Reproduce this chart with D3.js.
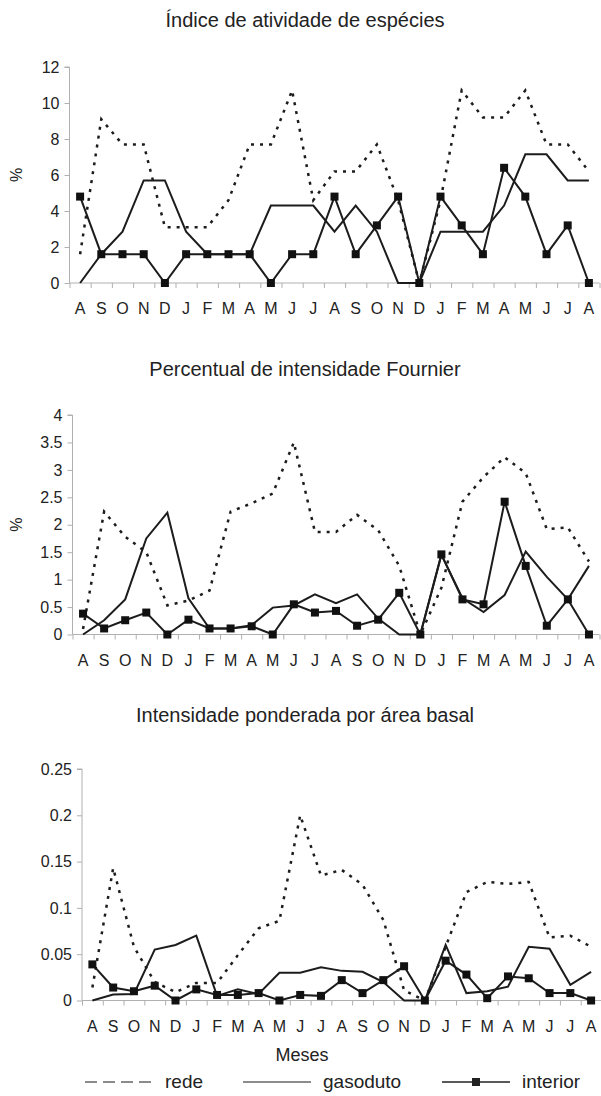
<!DOCTYPE html>
<html>
<head>
<meta charset="utf-8">
<script src="https://cdn.jsdelivr.net/npm/d3@7"></script>
<style>
  body { margin: 0; background: #fff; }
  text { font-family: "Liberation Sans", Arial, sans-serif; fill: #222; }
</style>
</head>
<body>
<svg id="chart" width="601" height="1096"></svg>
<script>
// month labels, Aug .. Aug (two years)
const months = ["A","S","O","N","D","J","F","M","A","M","J","J","A","S","O","N","D","J","F","M","A","M","J","J","A"];

// Índice de atividade de espécies (%)
const redeAtividade     = [1.6, 9.1, 7.7, 7.7, 3.1, 3.1, 3.1, 4.6, 7.7, 7.7, 10.7, 4.6, 6.2, 6.2, 7.7, 4.6, 0, 4.6, 10.7, 9.2, 9.2, 10.7, 7.7, 7.7, 6.2];
const gasodutoAtividade = [0, 1.6, 2.85, 5.7, 5.7, 2.85, 1.6, 1.6, 1.6, 4.3, 4.3, 4.3, 2.85, 4.3, 2.85, 0, 0, 2.85, 2.85, 2.85, 4.3, 7.15, 7.15, 5.7, 5.7];
const interiorAtividade = [4.8, 1.6, 1.6, 1.6, 0, 1.6, 1.6, 1.6, 1.6, 0, 1.6, 1.6, 4.8, 1.6, 3.2, 4.8, 0, 4.8, 3.2, 1.6, 6.4, 4.8, 1.6, 3.2, 0];

// Percentual de intensidade Fournier (%)
const redeFournier     = [0.1, 2.24, 1.78, 1.5, 0.53, 0.62, 0.8, 2.24, 2.39, 2.57, 3.5, 1.87, 1.87, 2.18, 1.9, 1.25, 0, 0.85, 2.42, 2.87, 3.23, 2.94, 1.92, 1.95, 1.33];
const gasodutoFournier = [0, 0.26, 0.64, 1.75, 2.22, 0.66, 0.11, 0.11, 0.17, 0.49, 0.53, 0.73, 0.57, 0.73, 0.29, 0, 0, 1.45, 0.66, 0.41, 0.72, 1.51, 1.05, 0.64, 1.25];
const interiorFournier = [0.38, 0.11, 0.26, 0.4, 0, 0.27, 0.11, 0.11, 0.15, 0, 0.55, 0.4, 0.43, 0.16, 0.27, 0.76, 0, 1.46, 0.64, 0.55, 2.42, 1.25, 0.16, 0.64, 0];

// Intensidade ponderada por área basal
const redeBasal     = [0.014, 0.143, 0.058, 0.02, 0.009, 0.019, 0.019, 0.049, 0.078, 0.086, 0.2, 0.135, 0.141, 0.125, 0.087, 0.011, 0, 0.058, 0.117, 0.128, 0.126, 0.128, 0.068, 0.07, 0.058];
const gasodutoBasal = [0, 0.0065, 0.007, 0.055, 0.06, 0.07, 0.005, 0.012, 0.007, 0.03, 0.03, 0.036, 0.032, 0.031, 0.02, 0, 0, 0.06, 0.008, 0.01, 0.015, 0.058, 0.056, 0.017, 0.031];
const interiorBasal = [0.039, 0.014, 0.01, 0.016, 0, 0.012, 0.006, 0.006, 0.008, 0, 0.006, 0.005, 0.022, 0.008, 0.022, 0.037, 0, 0.043, 0.028, 0.0025, 0.026, 0.024, 0.008, 0.008, 0];

const titles = ["Índice de atividade de espécies", "Percentual de intensidade Fournier", "Intensidade ponderada por área basal"];
const yMaxes = [12, 4, 0.25];
const ySteps = [2, 0.5, 0.05];
const yLabels = ["%", "%", ""];
const seriesNames = ["rede", "gasoduto", "interior"];

const svg = d3.select("#chart");
const axisGrey = "#b0b0b0";
const lineCol = "#1c1c1c";

// layout of each panel (pixel boxes)
const panels = [
  { left: 69.5, right: 599.5, top: 67,  bottom: 283,    titleY: 27,  data: [redeAtividade, gasodutoAtividade, interiorAtividade] },
  { left: 72.5, right: 599.5, top: 415, bottom: 634.5,  titleY: 376, data: [redeFournier, gasodutoFournier, interiorFournier] },
  { left: 82,   right: 601.5, top: 769, bottom: 1000.5, titleY: 722, data: [redeBasal, gasodutoBasal, interiorBasal] }
];

panels.forEach(function (p, k) {
  const g = svg.append("g");

  const x = d3.scaleBand().domain(d3.range(months.length)).range([p.left, p.right]);
  const xEdge = d3.scaleLinear().domain([0, months.length]).range([p.left, p.right]);
  const y = d3.scaleLinear().domain([0, yMaxes[k]]).range([p.bottom, p.top]);
  const cx = i => x(i) + x.bandwidth() / 2;

  // title
  g.append("text")
    .attr("x", 305).attr("y", p.titleY)
    .attr("text-anchor", "middle")
    .style("font-size", "20px")
    .text(titles[k]);

  // y axis
  const yTicks = d3.range(0, yMaxes[k] + ySteps[k] / 2, ySteps[k]);
  const yAxis = g.append("g")
    .attr("transform", `translate(${p.left},0)`)
    .call(d3.axisLeft(y).tickValues(yTicks).tickSize(5).tickPadding(5)
      .tickFormat(d => String(+d.toFixed(2))));
  yAxis.select(".domain").attr("stroke", axisGrey).attr("d", `M-5,${y(yMaxes[k])}H0V${p.bottom}`);
  yAxis.selectAll(".tick line").attr("stroke", axisGrey);
  yAxis.selectAll(".tick text").style("font-size", "16px").attr("fill", "#222");

  // x axis: ticks at band edges, labels at band centres
  const xTickAxis = g.append("g")
    .attr("transform", `translate(0,${p.bottom})`)
    .call(d3.axisBottom(xEdge).tickValues(d3.range(months.length + 1)).tickSize(5).tickFormat(""));
  xTickAxis.select(".domain").attr("stroke", axisGrey).attr("d", `M${p.left},0H${p.right}`);
  xTickAxis.selectAll(".tick line").attr("stroke", axisGrey);

  const xLabAxis = g.append("g")
    .attr("transform", `translate(0,${p.bottom})`)
    .call(d3.axisBottom(x).tickSize(0).tickPadding(20).tickFormat(i => months[i]));
  xLabAxis.select(".domain").remove();
  xLabAxis.selectAll(".tick text").style("font-size", "16px").attr("fill", "#222");

  // y label, centred on the plot height
  if (yLabels[k]) {
    g.append("text")
      .attr("transform", `translate(22,${(p.top + p.bottom) / 2}) rotate(-90)`)
      .attr("text-anchor", "middle")
      .style("font-size", "16px")
      .text(yLabels[k]);
  }

  const line = d3.line().x((d, i) => cx(i)).y(d => y(d));

  // rede (dotted)
  g.append("path").datum(p.data[0])
    .attr("d", line).attr("fill", "none")
    .attr("stroke", lineCol).attr("stroke-width", 2.5)
    .attr("stroke-dasharray", "3,6");

  // gasoduto (solid)
  g.append("path").datum(p.data[1])
    .attr("d", line).attr("fill", "none")
    .attr("stroke", lineCol).attr("stroke-width", 2);

  // interior (solid with square markers)
  g.append("path").datum(p.data[2])
    .attr("d", line).attr("fill", "none")
    .attr("stroke", lineCol).attr("stroke-width", 2);
  g.selectAll("rect.mk").data(p.data[2]).join("rect")
    .attr("class", "mk")
    .attr("x", (d, i) => cx(i) - 4).attr("y", d => y(d) - 4)
    .attr("width", 8).attr("height", 8)
    .attr("fill", "#111");
});

// x axis title
svg.append("text")
  .attr("x", 302).attr("y", 1061)
  .attr("text-anchor", "middle")
  .style("font-size", "18px")
  .text("Meses");

// legend
const legY = 1082;
const legend = svg.append("g");
const legX = [85, 243, 442];
seriesNames.forEach(function (name, i) {
  const lg = legend.append("g").attr("transform", `translate(${legX[i]},${legY})`);
  const ln = lg.append("line").attr("x1", 0).attr("x2", 68).attr("y1", 0).attr("y2", 0)
    .attr("stroke", i === 2 ? "#222" : "#666").attr("stroke-width", 1.5);
  if (i === 0) ln.attr("stroke-dasharray", "12,6");
  if (i === 2) lg.append("rect").attr("x", 30).attr("y", -4).attr("width", 8).attr("height", 8).attr("fill", "#222");
  lg.append("text").attr("x", 80).attr("y", 6).style("font-size", "19px").text(name);
});
</script>
</body>
</html>
